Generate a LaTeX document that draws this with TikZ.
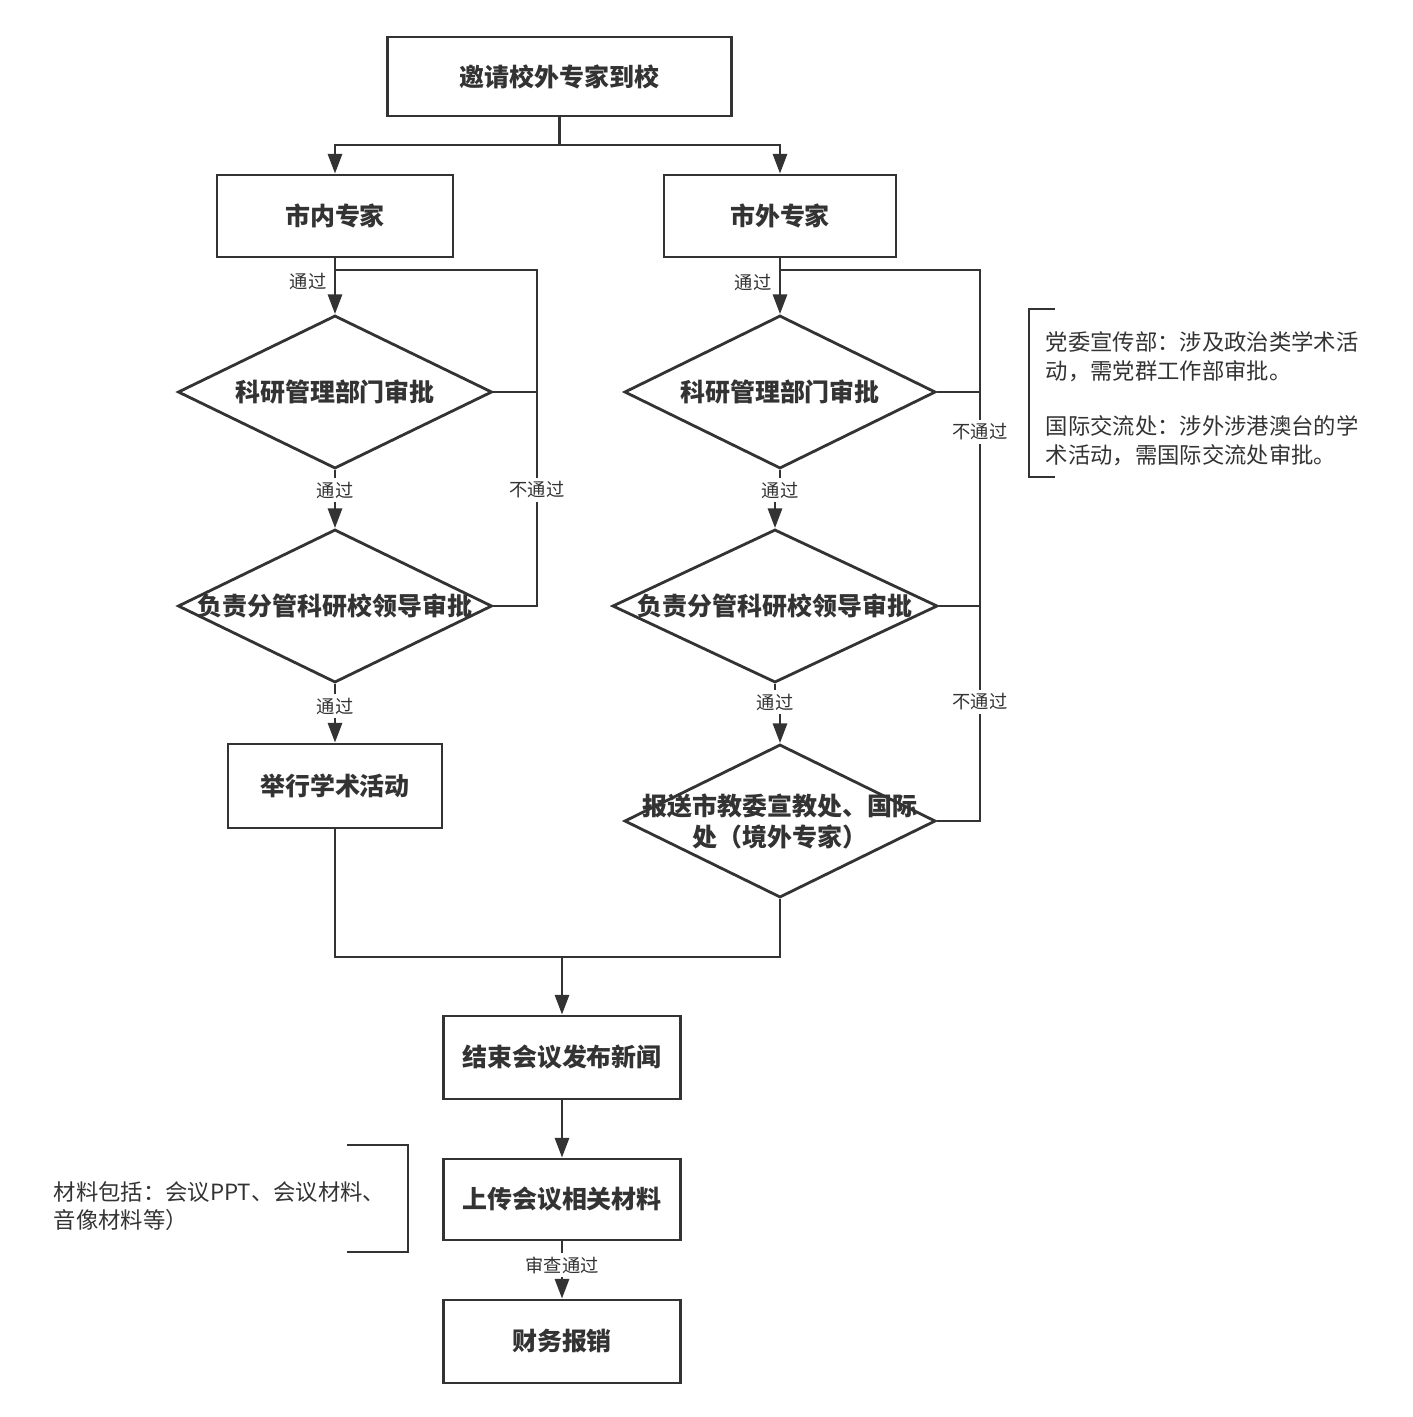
\documentclass[tikz,border=0pt]{standalone}
\usepackage{fontspec}
\setmainfont{Noto Sans CJK SC}
\usepackage{tikz}
\usetikzlibrary{arrows.meta,shapes.geometric,positioning}
\definecolor{ink}{HTML}{333333}

\begin{document}
\begin{tikzpicture}[x=0.01cm, y=0.01cm]
\tikzstyle{every node}+=[inner sep=0pt, text=ink]
\tikzstyle{proc}=[draw=ink, line width=0.8pt, rectangle, font=\fontsize{7.1}{9}\selectfont\bfseries]
\tikzstyle{decision}=[draw=ink, line width=0.8pt, diamond, minimum height=1.53cm]
\tikzstyle{dtext}=[font=\fontsize{7.1}{8.8}\selectfont\bfseries, align=center]
\tikzstyle{pass}=[fill=white, inner sep=1pt, font=\fontsize{5.2}{6}\selectfont]
\tikzstyle{note}=[align=left, anchor=west, font=\fontsize{6.35}{8.2}\selectfont]
\tikzstyle{wire}=[draw=ink, line width=0.8pt]
\tikzstyle{arr}=[wire, -{Triangle[length=5.6pt,width=4pt]}]
\useasboundingbox (0,0) rectangle (1413,-1417);

\node[proc, minimum width=3.43cm, minimum height=0.79cm] (invite) at (559.5,-76.5) {邀请校外专家到校};
\node[proc, minimum width=2.36cm, minimum height=0.82cm] (inner) at (335,-216) {市内专家};
\node[proc, minimum width=2.32cm, minimum height=0.82cm] (outer) at (780,-216) {市外专家};

\node[decision, minimum width=3.14cm] (dL1) at (335,-392) {};
\node[dtext] (tL1) at (dL1) {科研管理部门审批};
\node[decision, minimum width=3.14cm] (dL2) at (335,-606) {};
\node[dtext] (tL2) at (dL2) {负责分管科研校领导审批};
\node[proc, minimum width=2.14cm, minimum height=0.84cm] (hold) at (335,-786) {举行学术活动};

\node[decision, minimum width=3.11cm] (dR1) at (780,-392) {};
\node[dtext] (tR1) at (dR1) {科研管理部门审批};
\node[decision, minimum width=3.25cm] (dR2) at (775,-606) {};
\node[dtext] (tR2) at (dR2) {负责分管科研校领导审批};
\node[decision, minimum width=3.11cm] (dR3) at (780,-821) {};
\node[dtext] (tR3) at (dR3) {报送市教委宣教处、国际\\处（境外专家）};

\node[proc, minimum width=2.37cm, minimum height=0.83cm] (endmeet) at (562,-1057.5) {结束会议发布新闻};
\node[proc, minimum width=2.37cm, minimum height=0.81cm] (upload) at (562,-1199.5) {上传会议相关材料};
\node[proc, minimum width=2.37cm, minimum height=0.83cm] (reimb) at (562,-1341.5) {财务报销};

\coordinate (split) at (559.5,-145);
\coordinate (fbL) at (537,-270);
\coordinate (fbR) at (980,-270);
\coordinate (merge) at (562,-957);

\draw[wire] (invite) -- (split);
\draw[arr] (split) -| (inner.north);
\draw[arr] (split) -| (outer.north);

\draw[arr] (inner.south) -- (dL1.north);
\draw[arr] (dL1.south) -- (dL2.north);
\draw[arr] (dL2.south) -- (hold.north);
\draw[wire] (inner.south |- fbL) -- (fbL) -- (fbL |- dL2.east) -- (dL2.east);
\draw[wire] (dL1.east) -- (fbL |- dL1.east);

\draw[arr] (outer.south) -- (dR1.north);
\draw[arr] (dR1.south) -- (780,-490) -| (dR2.north);
\draw[arr] (dR2.south) -- (775,-702) -| (dR3.north);
\draw[wire] (outer.south |- fbR) -- (fbR) -- (fbR |- dR3.east) -- (dR3.east);
\draw[wire] (dR1.east) -- (fbR |- dR1.east);
\draw[wire] (dR2.east) -- (fbR |- dR2.east);

\draw[wire] (hold.south) |- (merge) -| (dR3.south);
\draw[arr] (merge) -- (endmeet.north);
\draw[arr] (endmeet) -- (upload);
\draw[arr] (upload) -- (reimb);

\node[pass] (pL0) at (308,-281) {通过};
\node[pass] (pL1) at (335,-490) {通过};
\node[pass] (pL2) at (335,-706) {通过};
\node[pass] (nL) at (537,-490) {不通过};
\node[pass] (pR0) at (753,-282) {通过};
\node[pass] (pR1) at (780,-490) {通过};
\node[pass] (pR2) at (775,-702) {通过};
\node[pass] (nR1) at (980,-432) {不通过};
\node[pass] (nR2) at (980,-702) {不通过};
\node[pass] (check) at (562,-1265) {审查通过};

\draw[wire] (1055,-309) -- (1029,-309) -- (1029,-477) -- (1055,-477);
\node[note] (remarkR) at (1045,-399) {党委宣传部：涉及政治类学术活\\动，需党群工作部审批。\\[7.5pt]国际交流处：涉外涉港澳台的学\\术活动，需国际交流处审批。};
\draw[wire] (347,-1145) -- (408,-1145) -- (408,-1252) -- (347,-1252);
\node[note, font=\fontsize{6.35}{7.9}\selectfont] (remarkL) at (53,-1206) {材料包括：会议PPT、会议材料、\\音像材料等）};
\end{tikzpicture}
\end{document}
